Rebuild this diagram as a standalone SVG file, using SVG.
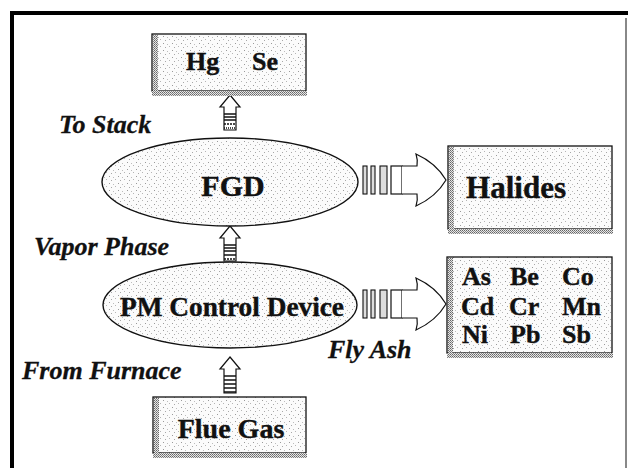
<svg xmlns="http://www.w3.org/2000/svg" width="628" height="468" viewBox="0 0 628 468">
<defs>
<pattern id="stip" width="9" height="7" patternUnits="userSpaceOnUse">
<rect width="9" height="7" fill="#fbfbfb"/>
<rect x="1" y="1" width="1" height="1" fill="#9a9a9a"/>
<rect x="5" y="2" width="1" height="1" fill="#bdbdbd"/>
<rect x="3" y="5" width="1" height="1" fill="#a8a8a8"/>
<rect x="7" y="4" width="1" height="1" fill="#b5b5b5"/>
</pattern>
<pattern id="dense" width="2" height="2" patternUnits="userSpaceOnUse">
<rect width="2" height="2" fill="#e6e6e6"/>
<rect x="0" y="0" width="1" height="1" fill="#666"/>
<rect x="1" y="1" width="1" height="1" fill="#888"/>
</pattern>
</defs>
<style>
.box{fill:url(#stip);stroke:#111;stroke-width:1.3}
.band{fill:url(#dense)}
.ell{fill:url(#stip);stroke:#111;stroke-width:1.4}
.t{font-family:"Liberation Serif","Times New Roman",serif;font-weight:bold;fill:#111;stroke:#111;stroke-width:0.4}
.lab{font-family:"Liberation Serif","Times New Roman",serif;font-weight:bold;font-style:italic;fill:#111;stroke:#111;stroke-width:0.3;font-size:26px}
.arr{fill:#fff;stroke:#111;stroke-width:1.2}
.str{stroke:#111;stroke-width:1.5}
.bar{fill:#ddd;stroke:#111;stroke-width:1.1}
</style>
<rect width="628" height="468" fill="#fff"/>
<!-- frame -->
<rect x="10" y="11" width="618" height="4" fill="#000"/>
<rect x="10" y="11" width="4" height="457" fill="#000"/>
<rect x="625" y="18" width="2" height="450" fill="#888"/>

<g id="connectors">
<g id="a-fgd-hg">
<path class="arr" d="M230,95 L240,107 L236,107 L236,130 L224,130 L224,107 L220,107 Z"/>
<line class="str" x1="224" y1="114" x2="236" y2="114"/><line class="str" x1="224" y1="117" x2="236" y2="117"/><line class="str" x1="224" y1="120" x2="236" y2="120"/><line class="str" x1="224" y1="124" x2="236" y2="124" stroke-dasharray="2 1"/><line class="str" x1="224" y1="128" x2="236" y2="128" stroke-dasharray="1 1"/>
</g>
<g id="a-pm-fgd">
<path class="arr" d="M230,226 L240,238 L236,238 L236,261 L224,261 L224,238 L220,238 Z"/>
<line class="str" x1="224" y1="245" x2="236" y2="245"/><line class="str" x1="224" y1="248" x2="236" y2="248"/><line class="str" x1="224" y1="251" x2="236" y2="251"/><line class="str" x1="224" y1="255" x2="236" y2="255"/><line class="str" x1="224" y1="259" x2="236" y2="259" stroke-dasharray="2 1"/>
</g>
<g id="a-flue-pm">
<path class="arr" d="M230,357 L240,369 L236,369 L236,393 L224,393 L224,369 L220,369 Z"/>
<line class="str" x1="224" y1="376" x2="236" y2="376"/><line class="str" x1="224" y1="380" x2="236" y2="380"/><line class="str" x1="224" y1="384" x2="236" y2="384"/><line class="str" x1="224" y1="388" x2="236" y2="388"/><line class="str" x1="224" y1="392" x2="236" y2="392"/>
</g>
<g id="a-fgd-hal">
<rect class="bar" x="363" y="166" width="4" height="28"/>
<rect class="bar" x="371" y="166" width="4" height="28"/>
<rect class="bar" x="380" y="166" width="7" height="28"/>
<rect class="arr" x="391" y="166" width="11" height="28"/>
<path class="arr" d="M402,166 L417,166 Q418,160 416,154 Q436,163 446,180 Q436,197 416,206 Q418,200 417,194 L402,194"/>
</g>
<g id="a-pm-metals">
<rect class="bar" x="363" y="290" width="4" height="28"/>
<rect class="bar" x="371" y="290" width="4" height="28"/>
<rect class="bar" x="380" y="290" width="7" height="28"/>
<rect class="arr" x="391" y="290" width="11" height="28"/>
<path class="arr" d="M402,290 L417,290 Q418,284 416,278 Q436,287 446,304 Q436,321 416,330 Q418,324 417,318 L402,318"/>
</g>
</g>

<g id="hgse">
<rect class="box" x="152" y="34" width="154" height="57"/>
<rect class="band" x="153" y="35" width="5" height="56"/>
<rect class="band" x="152" y="91" width="155" height="5"/>
<text class="t" x="186" y="70" font-size="26">Hg</text>
<text class="t" x="252" y="70" font-size="26">Se</text>
</g>

<g id="fgd">
<ellipse class="ell" cx="230" cy="182" rx="128" ry="44"/>
<text class="t" x="233" y="196" font-size="30" text-anchor="middle">FGD</text>
</g>

<g id="halides">
<rect class="box" x="448" y="146" width="164" height="83"/>
<rect class="band" x="449" y="147" width="5" height="82"/>
<rect class="band" x="448" y="229" width="165" height="5"/>
<text class="t" x="516" y="198" font-size="31" text-anchor="middle">Halides</text>
</g>

<g id="pm">
<ellipse class="ell" cx="230" cy="305" rx="127" ry="43"/>
<text class="t" x="232" y="316" font-size="28" text-anchor="middle" textLength="224" lengthAdjust="spacingAndGlyphs">PM Control Device</text>
</g>

<g id="metals">
<rect class="box" x="447" y="257" width="165" height="96"/>
<rect class="band" x="448" y="258" width="5" height="95"/>
<rect class="band" x="447" y="353" width="166" height="5"/>
<text class="t" font-size="26" y="285"><tspan x="462">As</tspan><tspan x="510">Be</tspan><tspan x="562">Co</tspan></text>
<text class="t" font-size="26" y="315"><tspan x="461">Cd</tspan><tspan x="509">Cr</tspan><tspan x="562">Mn</tspan></text>
<text class="t" font-size="26" y="343"><tspan x="462">Ni</tspan><tspan x="510">Pb</tspan><tspan x="562">Sb</tspan></text>
</g>

<g id="fluegas">
<rect class="box" x="153" y="397" width="153" height="56"/>
<rect class="band" x="154" y="398" width="5" height="55"/>
<rect class="band" x="153" y="453" width="154" height="5"/>
<text class="t" x="231" y="438" font-size="28" text-anchor="middle">Flue Gas</text>
</g>

<g id="labels">
<text class="lab" x="59" y="133">To Stack</text>
<text class="lab" x="34" y="255">Vapor Phase</text>
<text class="lab" x="328" y="358">Fly Ash</text>
<text class="lab" x="22" y="379">From Furnace</text>
</g>
</svg>
